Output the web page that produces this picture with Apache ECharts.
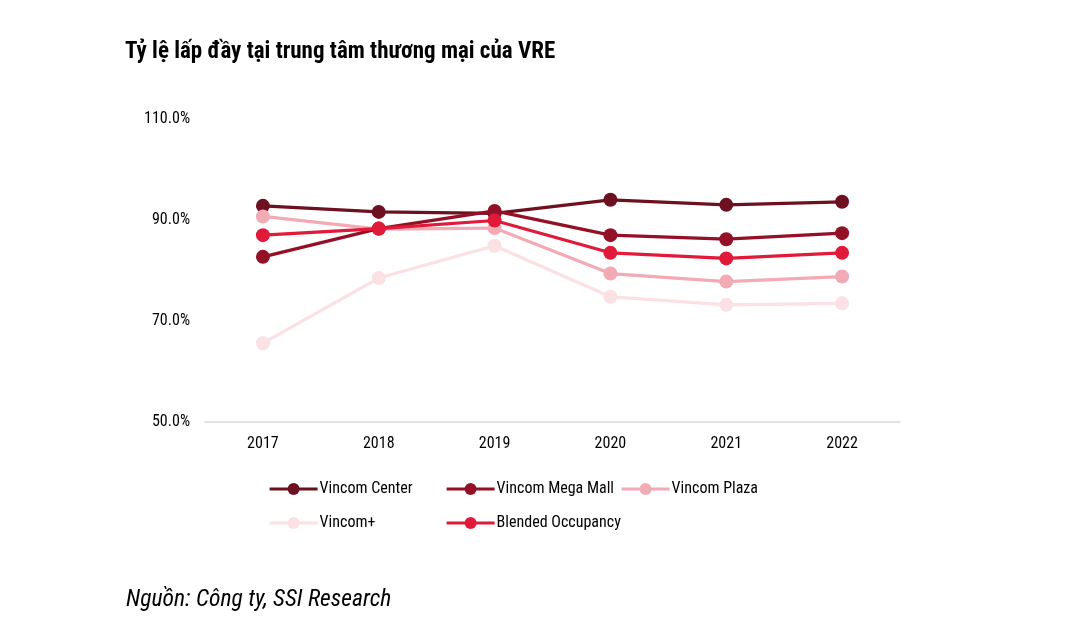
<!DOCTYPE html>
<html>
<head>
<meta charset="utf-8">
<script src="https://cdn.jsdelivr.net/npm/echarts@6/dist/echarts.min.js"></script>
<style>
html,body{margin:0;padding:0;background:#fff;}
#chart{width:1068px;height:627px;}
</style>
</head>
<body>
<div id="chart"></div>
<script>
var categories = ['2017', '2018', '2019', '2020', '2021', '2022'];
var vincomCenter = [92.8, 91.6, 91.3, 94.0, 93.0, 93.6];
var vincomMegaMall = [82.7, 88.3, 91.8, 87.0, 86.2, 87.4];
var vincomPlaza = [90.7, 88.2, 88.4, 79.4, 77.8, 78.8];
var vincomPlus = [65.6, 78.5, 84.9, 74.8, 73.2, 73.5];
var blended = [87.0, 88.3, 89.9, 83.5, 82.4, 83.5];
var seriesNames = ['Vincom Center', 'Vincom Mega Mall', 'Vincom Plaza', 'Vincom+', 'Blended Occupancy'];
var colors = ['#6d1020', '#941027', '#f2aab5', '#fbe0e4', '#e21a3a'];
var yTicks = [50, 70, 90, 110];

var FONT = '"Liberation Sans Narrow", "Roboto Condensed", "Arial Narrow", sans-serif';
var chart = echarts.init(document.getElementById('chart'));
var dataSets = [vincomCenter, vincomMegaMall, vincomPlaza, vincomPlus, blended];
var legendPos = [[263, 476], [440, 476], [615, 476], [263, 510], [440, 510]];

function mkSeries(i) {
  return {
    name: seriesNames[i],
    type: 'line',
    data: dataSets[i],
    symbol: 'circle',
    symbolSize: 14,
    lineStyle: { width: 3.2, color: colors[i] },
    itemStyle: { color: colors[i] },
    z: [2, 4, 3, 1, 5][i],
    animation: false
  };
}

var option = {
  backgroundColor: '#fff',
  title: [{
    text: 'Tỷ lệ lấp đầy tại trung tâm thương mại của VRE',
    left: 120, top: 36,
    textStyle: { fontFamily: FONT, fontSize: 23, fontWeight: 'bold', color: '#000' }
  }, {
    text: 'Nguồn: Công ty, SSI Research',
    left: 121, top: 583,
    textStyle: { fontFamily: FONT, fontSize: 23.6, fontWeight: 'normal', fontStyle: 'italic', color: '#000' }
  }],
  legend: legendPos.map(function (p, i) {
    return {
      data: [seriesNames[i]],
      left: p[0], top: p[1],
      itemWidth: 48, itemHeight: 15, itemGap: 0,
      itemStyle: { color: colors[i] },
      lineStyle: { width: 3.2, color: colors[i] },
      textStyle: { fontFamily: FONT, fontSize: 16, color: '#000', padding: [0, 0, 0, -3] },
      selectedMode: false
    };
  }),
  grid: { left: 205, right: 168, top: 119, bottom: 205 },
  xAxis: {
    type: 'category',
    data: categories,
    boundaryGap: true,
    axisLine: { lineStyle: { color: '#d9d9d9', width: 1.5 } },
    axisTick: { show: false },
    axisLabel: { fontFamily: FONT, fontSize: 16, color: '#000', margin: 14 }
  },
  yAxis: {
    type: 'value',
    min: yTicks[0], max: yTicks[yTicks.length - 1], interval: 20,
    axisLine: { show: false },
    axisTick: { show: false },
    splitLine: { show: false },
    axisLabel: {
      fontFamily: FONT, fontSize: 16, color: '#000', margin: 15,
      formatter: function (v) { return v.toFixed(1) + '%'; }
    }
  },
  series: [0, 1, 2, 3, 4].map(mkSeries)
};
chart.setOption(option);
</script>
</body>
</html>
